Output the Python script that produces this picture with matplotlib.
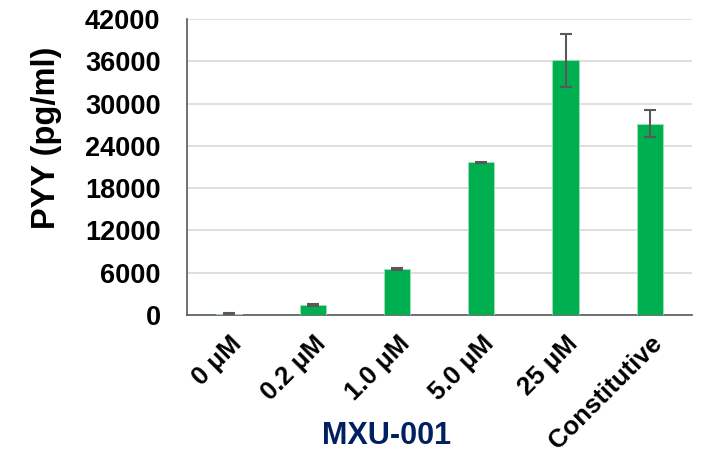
import matplotlib
matplotlib.use('Agg')
import matplotlib.pyplot as plt
import numpy as np

plt.rcParams['font.family'] = ['Liberation Sans', 'DejaVu Sans']

categories = ['0 μM', '0.2 μM', '1.0 μM', '5.0 μM', '25 μM', 'Constitutive']
pyy = [150, 1400, 6520, 21680, 36150, 27150]
err = [60, 150, 100, 80, 3800, 1900]
yticks = [0, 6000, 12000, 18000, 24000, 30000, 36000, 42000]

fig = plt.figure(figsize=(7.08, 4.55), dpi=100)
ax = fig.add_axes([0.264, 0.308, 0.713, 0.65])

x = np.arange(len(categories))
ax.bar(x, pyy, width=0.31, color='#00B050', edgecolor='#9FE3B8', linewidth=0.6, zorder=3)
ax.errorbar(x, pyy, yerr=err, fmt='none', ecolor='#595959', elinewidth=1.5,
            capsize=4, capthick=1.5, zorder=4)

ax.set_xlim(-0.5, len(categories) - 0.5)
ax.set_ylim(0, 42000)
ax.set_yticks(yticks)
ax.set_yticklabels([str(v) for v in yticks], fontsize=19.5, fontweight='bold')
ax.set_xticks(x)
ax.set_xticklabels(categories, fontsize=18.5, fontweight='bold', rotation=45,
                   ha='right', rotation_mode='anchor')
ax.tick_params(axis='y', length=0, pad=19)
ax.tick_params(axis='x', length=0, pad=12)
ax.yaxis.grid(True, color='#D9D9D9', linewidth=1.2, zorder=0)
ax.set_axisbelow(True)

for s in ['top', 'right']:
    ax.spines[s].set_visible(False)
for s in ['left', 'bottom']:
    ax.spines[s].set_color('#595959')
    ax.spines[s].set_linewidth(1.2)

# axis titles placed like the original (y title sits above centre)
fig.text(47 / 708, 1 - 138 / 455, 'PYY (pg/ml)', rotation=90, ha='center', va='center',
         fontsize=23.5, fontweight='bold')
fig.text(387 / 708, 1 - 436 / 455, 'MXU-001', ha='center', va='center',
         fontsize=22, fontweight='bold', color='#002060')

fig.savefig('out.png', dpi=100)
